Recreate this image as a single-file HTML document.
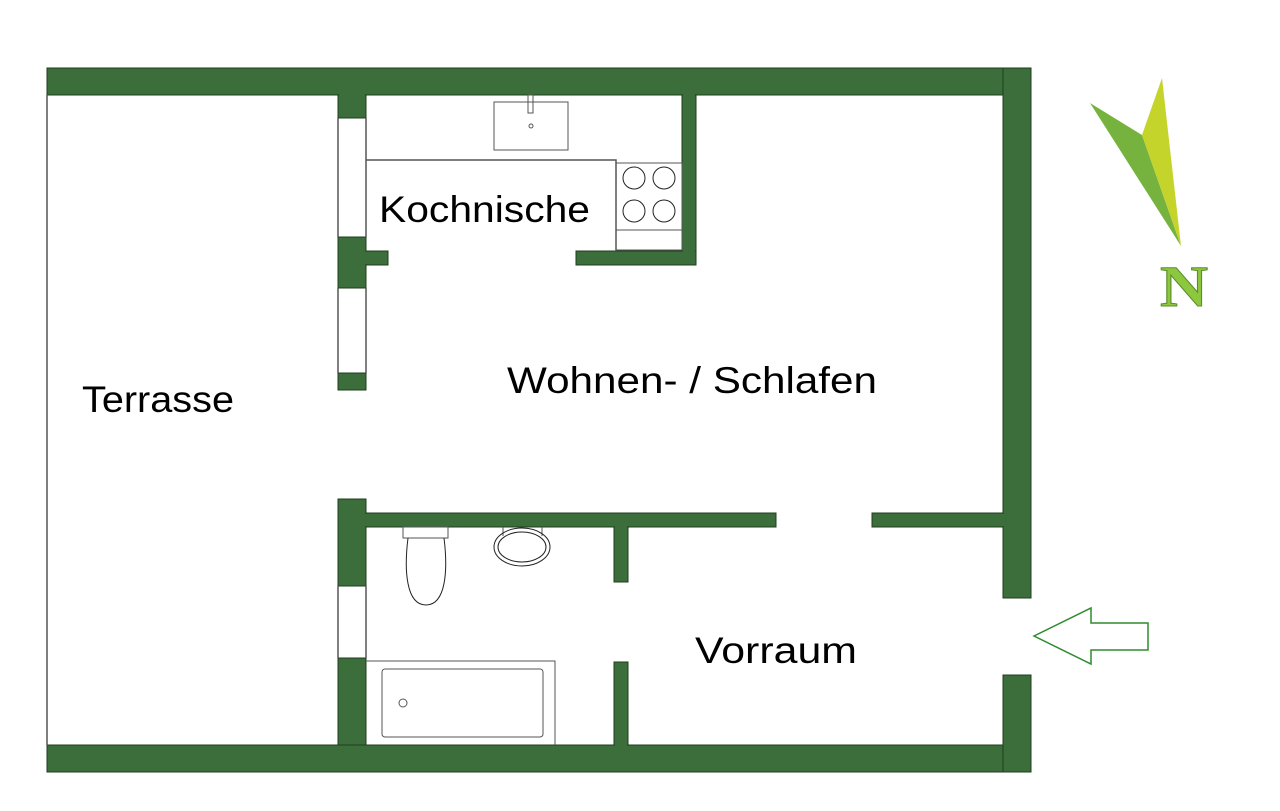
<!DOCTYPE html>
<html><head><meta charset="utf-8"><style>body{margin:0;background:#fff}svg{display:block}</style></head>
<body>
<svg width="1280" height="811" viewBox="0 0 1280 811" xmlns="http://www.w3.org/2000/svg">
<g fill="#3c6e3b" stroke="#1f3d1f" stroke-width="1">
<rect x="47" y="68" width="984" height="27"/>
<rect x="47" y="745" width="984" height="27"/>
<rect x="1003" y="68" width="28" height="530"/>
<rect x="1003" y="675" width="28" height="97"/>
<rect x="338" y="95" width="28" height="23"/>
<rect x="338" y="237" width="28" height="51"/>
<rect x="366" y="251" width="22" height="14"/>
<rect x="338" y="373" width="28" height="17"/>
<rect x="682" y="95" width="14" height="170"/>
<rect x="576" y="251" width="120" height="14"/>
<rect x="338" y="499" width="28" height="87"/>
<rect x="338" y="658" width="28" height="87"/>
<rect x="366" y="513" width="410" height="14"/>
<rect x="872" y="513" width="131" height="14"/>
<rect x="614" y="527" width="14" height="55"/>
<rect x="614" y="662" width="14" height="83"/>
</g>
<g fill="#3c6e3b">
<rect x="1004" y="69" width="26" height="25"/>
<rect x="1004" y="746" width="26" height="25"/>
<rect x="339" y="746" width="26" height="2"/>
<rect x="615" y="744" width="12" height="3"/>
<rect x="1002" y="514" width="3" height="12"/>
<rect x="339" y="94" width="26" height="2"/>
<rect x="683" y="94" width="12" height="2"/>
<rect x="683" y="250" width="12" height="14"/>
<rect x="365" y="252" width="3" height="12"/>
<rect x="365" y="514" width="3" height="12"/>
<rect x="615" y="525" width="12" height="3"/>
</g>
<g fill="none" stroke="#555" stroke-width="1.5">
<line x1="47" y1="95" x2="47" y2="745"/>
<line x1="338" y1="118" x2="338" y2="237"/>
<line x1="366" y1="118" x2="366" y2="237"/>
<line x1="338" y1="288" x2="338" y2="373"/>
<line x1="366" y1="288" x2="366" y2="373"/>
<line x1="338" y1="586" x2="338" y2="658"/>
<line x1="366" y1="586" x2="366" y2="658"/>
<polyline points="366,160 616,160 616,251"/>
<rect x="616" y="163" width="66" height="87" stroke-width="1"/>
<line x1="616" y1="230" x2="682" y2="230" stroke-width="1"/>
<rect x="494" y="102" width="74" height="48" stroke-width="1"/>
<rect x="528" y="95" width="5" height="18" stroke-width="1"/>
<circle cx="531" cy="126" r="2" stroke-width="1"/>
<circle cx="634" cy="178" r="11" stroke="#222" stroke-width="1"/>
<circle cx="664" cy="178" r="11" stroke="#222" stroke-width="1"/>
<circle cx="634" cy="211" r="11" stroke="#222" stroke-width="1"/>
<circle cx="664" cy="211" r="11" stroke="#222" stroke-width="1"/>
<rect x="403" y="527" width="45" height="11" stroke-width="1"/>
<path d="M408,538 C404,570 406,605 426,605 C446,605 448,570 444,538" stroke="#222" stroke-width="1"/>
<line x1="503" y1="527" x2="503" y2="536" stroke-width="1"/>
<line x1="542" y1="527" x2="542" y2="536" stroke-width="1"/>
<ellipse cx="522" cy="547" rx="28" ry="19" stroke="#222" stroke-width="1"/>
<ellipse cx="522" cy="547" rx="24" ry="15" stroke="#222" stroke-width="1"/>
<polyline points="366,661 555,661 555,745" stroke-width="1"/>
<rect x="382" y="669" width="161" height="68" rx="3" stroke-width="1"/>
<circle cx="403" cy="703" r="4" stroke-width="1"/>
</g>
<polygon points="1034,636 1091,608 1091,623 1148,623 1148,650 1091,650 1091,664" fill="#fff" stroke="#2e8b2e" stroke-width="1.5"/>
<polygon points="1090,103 1142,135 1181,246" fill="#76b33e"/>
<polygon points="1162,78 1142,135 1181,246" fill="#c5d42b"/>
<text x="1184" y="306" text-anchor="middle" font-family="Liberation Serif, serif" font-size="58" font-weight="bold" fill="#8dc63f" stroke="#5a8f2a" stroke-width="1" textLength="48" lengthAdjust="spacingAndGlyphs">N</text>
<g font-family="Liberation Sans, sans-serif" fill="#000" font-size="37">
<text x="379" y="222" textLength="211" lengthAdjust="spacingAndGlyphs">Kochnische</text>
<text x="507" y="393" textLength="370" lengthAdjust="spacingAndGlyphs">Wohnen- / Schlafen</text>
<text x="82" y="412" textLength="152" lengthAdjust="spacingAndGlyphs">Terrasse</text>
<text x="695" y="663" textLength="162" lengthAdjust="spacingAndGlyphs">Vorraum</text>
</g>
</svg>
</body></html>
